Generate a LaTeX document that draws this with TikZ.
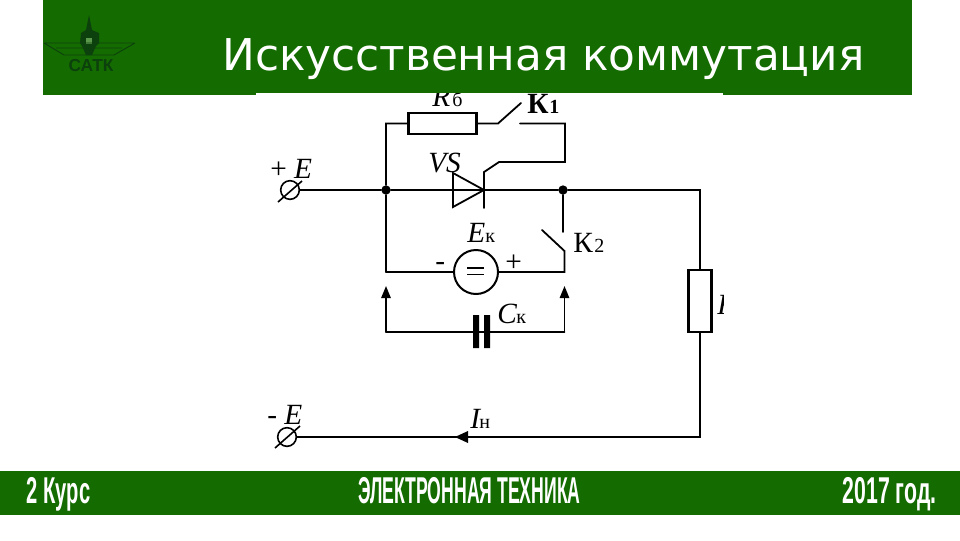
\documentclass[tikz,border=0pt]{standalone}
\usepackage{fontspec}
\setmainfont{Liberation Serif}
\newfontfamily\titlefont{DejaVu Sans}
\newfontfamily\barfont{Liberation Sans}
\usetikzlibrary{arrows.meta}
\definecolor{barcol}{HTML}{146C00}
\definecolor{logocol}{HTML}{0C400C}
\tikzset{
  wire/.style={draw=black,line width=1.35pt,line cap=round,line join=miter},
  part/.style={draw=black,line width=1.8pt,fill=white,inner sep=0pt},
  dotn/.style={circle,fill=black,inner sep=0pt,minimum size=7pt},
  term/.style={circle,draw=black,line width=1.2pt,inner sep=0pt,minimum size=14pt},
  lab/.style={font=\fontsize{22}{22}\selectfont\itshape,anchor=base west,inner sep=0pt},
  labn/.style={font=\fontsize{22}{22}\selectfont,anchor=base west,inner sep=0pt},
  subn/.style={font=\fontsize{15}{15}\selectfont,anchor=base west,inner sep=0pt},
  barlab/.style={font=\barfont\bfseries\fontsize{28}{28}\selectfont,text=white,inner sep=0pt,anchor=base},
  tip/.style={-{Triangle[length=9pt,width=7pt]}}
}
\begin{document}
\begin{tikzpicture}[x=0.75pt,y=-0.75pt]
\useasboundingbox (0,0) rectangle (960,540);
\fill[white] (0,0) rectangle (960,540);
% bars
\fill[barcol] (43,0) rectangle (912,95);
\fill[barcol] (0,471) rectangle (960,515);
\fill[white] (256,93) rectangle (723,96);
\node[font=\titlefont\fontsize{32.85}{33}\selectfont,text=white,anchor=base west,inner sep=0pt] (title) at (222,70) {Искусственная коммутация};
% logo
\fill[logocol] (89,15) -- (92,30) -- (99,33) -- (99,43) -- (96,46) -- (92,55) -- (86,55) -- (82,46) -- (80,43) -- (81,33) -- (86,30) -- cycle;
\fill[barcol!70!white] (86,38) rectangle (92,44);
\draw[logocol,line width=.7pt] (44,43) -- (135,43) (44,43) -- (64,55) -- (114,55) -- (135,43) (56,48) -- (122,48);
\node[font=\barfont\bfseries\fontsize{13}{13}\selectfont,text=logocol,inner sep=0pt] (logotext) at (91,66) {САТК};
% footer
\node[barlab,xscale=.54] (fa) at (58.5,503) {2 Курс};
\node[barlab,xscale=.473] (fb) at (469.5,503) {ЭЛЕКТРОННАЯ ТЕХНИКА};
\node[barlab,xscale=.57] (fc) at (889.5,503) {2017 год.};
% junctions
\node[dotn] (j1) at (386,190) {};
\node[dotn] (j2) at (563,190) {};
\node[term] (tp) at (290,190) {};
\node[term] (tm) at (287,437) {};
\coordinate (c1) at (386,123.5);
\coordinate (sw1a) at (498,123.5);
\coordinate (sw1b) at (521,103);
\coordinate (sw1c) at (520,123.5);
\coordinate (c2) at (565,123.5);
\coordinate (c3) at (565,162);
\coordinate (c4) at (499,162);
\coordinate (g) at (484,172);
\coordinate (g2) at (484,208);
\coordinate (c5) at (700,190);
\coordinate (c6) at (700,437);
\coordinate (c7) at (386,272);
\coordinate (c8) at (564.5,272);
\coordinate (sw2a) at (563,232);
\coordinate (sw2b) at (542,230);
\coordinate (sw2c) at (564.5,251);
\coordinate (a1) at (386,332);
\coordinate (a2) at (564.5,332);
\coordinate (a1t) at (386,286);
\coordinate (a2t) at (564.5,286);
% wires
\draw[wire] (tp) -- (j1) -- (j2) -- (c5) -- (c6) -- (tm);
\draw[wire] (c7) -- (j1) -- (c1) -- (sw1a) -- (sw1b);
\draw[wire] (sw1c) -- (c2) -- (c3) -- (c4) -- (g) -- (g2);
\draw[wire] (j2) -- (sw2a);
\draw[wire] (sw2b) -- (sw2c) -- (c8) -- (c7);
\draw[wire,tip] (a1) -- (a1t);
\draw[wire,tip] (a2) -- (a2t);
\draw[wire] (a1) -- (a2);
% parts
\node[part,minimum height=15.75pt,minimum width=51pt] (rb) at (442.5,123.5) {};
\node[part,minimum width=17.5pt,minimum height=46.5pt] (rn) at (700,301) {};
\node[circle,draw=black,line width=1.5pt,fill=white,minimum size=33pt,inner sep=0pt] (ek) at (476,272) {};
\draw[line width=1.4pt] (467,268.3) -- (484,268.3) (467,274.5) -- (484,274.5);
\fill[black] (473,315) rectangle (479,348) (484,315) rectangle (490,348);
\draw[line width=1.35pt,line join=miter] (453,173) -- (484,190) -- (453,207) -- cycle;
\draw[line width=1.2pt] (278,202) -- (302,181) (275,448) -- (300,426);
\fill[black] (455,437) -- (468,431) -- (468,443) -- cycle;
% labels clipped by the picture frame
\begin{scope}
\clip (256,93) rectangle (723,460);
\node[lab] (lrb) at (432,106) {R};
\node[subn] (lrbs) at (452,106) {б};
\node[labn,font=\bfseries\fontsize{22}{22}\selectfont] (lk1) at (527,113) {К};
\node[subn,font=\bfseries\fontsize{15}{15}\selectfont] (lk1s) at (549,113) {1};
\node[lab] (lrn) at (717,314) {R};
\end{scope}
\node[lab] (lvs) at (428,172) {VS};
\node[labn] (lpe) at (270,178) {+ \textit{E}};
\node[lab] (lek) at (467,242) {E};
\node[subn] (leks) at (485,242) {к};
\node[labn] (lk2) at (573,252) {К};
\node[subn] (lk2s) at (594,252) {2};
\node[lab] (lck) at (497,323) {C};
\node[subn] (lcks) at (516,323) {к};
\node[labn] (lme) at (267,424) {- \textit{E}};
\node[lab] (lin) at (470,428) {I};
\node[subn] (lins) at (479,428) {н};
\node[labn] (lmin) at (435,270) {-};
\node[labn] (lplus) at (505,271) {+};
\end{tikzpicture}
\end{document}
